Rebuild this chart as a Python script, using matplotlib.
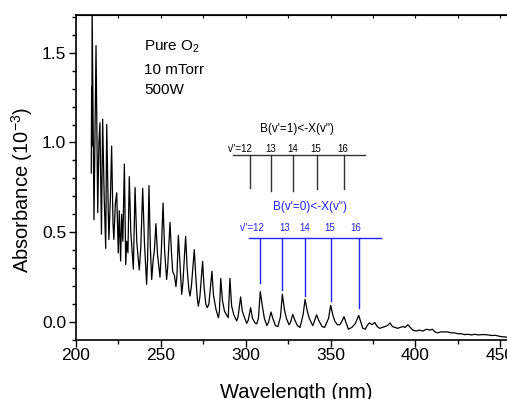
import matplotlib
matplotlib.use("Agg")
import matplotlib.pyplot as plt
from matplotlib.ticker import MultipleLocator

plt.rcParams['font.family'] = ['Liberation Sans', 'DejaVu Sans']
plt.rcParams['mathtext.default'] = 'regular'

# traced spectrum (wavelength nm, absorbance 1e-3)
wavelength = [209.0, 209.2, 209.35, 209.5, 210.6, 211.8, 212.8, 213.5, 214.1, 215.0,
              215.7, 216.6, 217.5, 218.1, 219.0, 219.4, 220.3, 221.0, 221.8, 222.3,
              223.2, 224.0, 224.9, 225.5, 226.3, 226.9, 227.6, 228.5, 229.3, 229.9,
              230.6, 231.4, 232.3, 233.8, 234.8, 235.8, 236.6, 237.3, 238.2, 239.3,
              240.3, 241.6, 242.2, 243.0, 243.8, 244.6, 245.5, 246.2, 247.1, 248.0,
              249.5, 250.3, 251.3, 252.2, 253.4, 254.0, 255.4, 256.3, 257.0, 258.0,
              258.9, 259.5, 260.3, 261.2, 262.3, 263.0, 264.6, 265.5, 266.5, 267.2,
              268.0, 269.7, 270.6, 271.5, 272.1, 273.0, 274.6, 275.5, 276.5, 277.4,
              278.3, 280.1, 281.0, 282.5, 283.9, 284.5, 285.3, 286.3, 287.5, 289.7,
              290.7, 291.7, 293.0, 294.7, 295.5, 297.0, 298.0, 299.5, 300.6, 301.5,
              302.9, 304.0, 305.5, 306.5, 307.5, 308.6, 309.8, 311.0, 312.5, 313.5,
              314.9, 316.0, 317.5, 319.0, 320.5, 321.6, 322.8, 324.0, 325.5, 326.5,
              327.7, 329.0, 330.5, 332.0, 333.8, 335.0, 336.3, 337.5, 339.5, 341.0,
              341.8, 343.0, 345.0, 346.5, 348.8, 350.1, 351.3, 352.5, 354.0, 355.5,
              357.0, 357.9, 359.0, 360.5, 362.5, 364.5, 366.6, 367.8, 369.0, 370.5,
              371.5, 373.0, 374.5, 376.0, 377.5, 379.0, 380.5, 382.0, 383.5, 385.0,
              386.5, 388.0, 389.5, 391.0, 392.5, 394.0, 395.5, 397.0, 398.5, 400.5,
              402.5, 404.5, 406.5, 408.5, 410.0, 411.5, 413.0, 415.0, 417.0, 419.0,
              421.0, 423.0, 425.0, 427.0, 429.0, 431.0, 433.0, 435.0, 437.0, 439.0,
              441.0, 443.0, 445.0, 447.0, 449.0, 451.0, 453.0, 454.5]
absorbance = [0.83, 1.31, 0.98, 1.75, 0.57, 1.54, 0.61, 1.00, 1.11, 0.49,
              1.13, 0.70, 0.41, 1.10, 0.62, 0.46, 0.70, 0.98, 0.55, 0.46,
              0.66, 0.72, 0.385, 0.62, 0.34, 0.60, 0.45, 0.88, 0.32, 0.45,
              0.386, 0.81, 0.50, 0.295, 0.75, 0.45, 0.36, 0.29, 0.42, 0.745,
              0.45, 0.21, 0.35, 0.76, 0.42, 0.237, 0.35, 0.40, 0.548, 0.38,
              0.25, 0.40, 0.663, 0.40, 0.237, 0.30, 0.555, 0.38, 0.28, 0.26,
              0.197, 0.26, 0.483, 0.33, 0.154, 0.22, 0.477, 0.30, 0.18, 0.145,
              0.20, 0.403, 0.25, 0.13, 0.089, 0.14, 0.338, 0.19, 0.10, 0.08,
              0.10, 0.283, 0.15, 0.07, 0.024, 0.06, 0.243, 0.12, 0.06, 0.024,
              0.243, 0.09, 0.04, 0.006, 0.03, 0.14, 0.06, 0.02, -0.007, 0.01,
              0.08, 0.02, -0.005, -0.01, 0.02, 0.17, 0.09, 0.02, -0.02, 0.0,
              0.056, 0.02, -0.02, -0.025, 0.03, 0.155, 0.07, 0.02, -0.015, 0.0,
              0.043, 0.01, -0.02, -0.03, 0.04, 0.126, 0.06, 0.02, -0.02, 0.02,
              0.04, 0.01, -0.025, -0.03, 0.02, 0.093, 0.04, 0.005, -0.015, -0.015,
              0.01, 0.03, 0.0, -0.04, -0.03, -0.01, 0.037, 0.0, -0.035, -0.04,
              -0.02, -0.005, -0.015, -0.002, -0.025, -0.035, -0.03, -0.025, -0.02, -0.005,
              -0.025, -0.03, -0.035, -0.03, -0.025, -0.03, -0.015, -0.03, -0.045, -0.05,
              -0.045, -0.05, -0.04, -0.045, -0.04, -0.055, -0.06, -0.055, -0.055, -0.055,
              -0.06, -0.06, -0.065, -0.065, -0.07, -0.068, -0.072, -0.068, -0.072, -0.07,
              -0.07, -0.072, -0.075, -0.074, -0.078, -0.082, -0.083, -0.087]

# B(v'=1) <- X(v'') progression
v1_pos = [302.5, 314.9, 327.7, 341.8, 357.9]
v1_bottom = [0.747, 0.732, 0.732, 0.74, 0.74]
v1_bar_y = 0.928
v1_bar_x = [292.7, 370.3]
v1_label_x = [296.6, 314.9, 327.7, 341.5, 357.3]
v1_label_y = 0.965
v1_title = ("B(v'=1)<-X(v\")", 330.0, 1.074)

# B(v'=0) <- X(v'') progression
v0_pos = [308.6, 321.6, 335.0, 350.1, 366.6]
v0_bottom = [0.215, 0.178, 0.145, 0.117, 0.08]
v0_bar_y = 0.469
v0_bar_x = [302.1, 379.5]
v0_label_x = [304.0, 322.7, 335.0, 349.4, 364.7]
v0_label_y = 0.524
v0_title = ("B(v'=0)<-X(v\")", 337.9, 0.641)

level_labels = ['v"=12', '13', '14', '15', '16']
conditions = ["Pure O$_{2}$", "10 mTorr", "500W"]
conditions_y = [1.533, 1.405, 1.293]

fig = plt.figure(figsize=(5.07, 3.99), dpi=100)
x0 = 76 / 507
ax = fig.add_axes([x0, 59 / 399, (260 * 1.697) / 507, (340 - 15) / 399])

ax.plot(wavelength, absorbance, color='black', lw=0.9)

black_c = '#333333'
ax.plot(v1_bar_x, [v1_bar_y] * 2, color=black_c, lw=1.0)
for p, b in zip(v1_pos, v1_bottom):
    ax.plot([p, p], [v1_bar_y, b], color=black_c, lw=1.0)
for lx, t in zip(v1_label_x, level_labels):
    ax.text(lx, v1_label_y, t, fontsize=7, ha='center', va='center', color='black')
ax.text(v1_title[1], v1_title[2], v1_title[0], fontsize=8.5, ha='center', va='center', color='black')

blue_c = '#2222ff'
ax.plot(v0_bar_x, [v0_bar_y] * 2, color=blue_c, lw=1.0)
for p, b in zip(v0_pos, v0_bottom):
    ax.plot([p, p], [v0_bar_y, b], color=blue_c, lw=1.0)
for lx, t in zip(v0_label_x, level_labels):
    ax.text(lx, v0_label_y, t, fontsize=7, ha='center', va='center', color=blue_c)
ax.text(v0_title[1], v0_title[2], v0_title[0], fontsize=8.5, ha='center', va='center', color=blue_c)

for t, yy in zip(conditions, conditions_y):
    ax.text(240.3, yy, t, fontsize=11, ha='left', va='center')

ax.set_xlim(200, 460)
ax.set_ylim(-0.1, 1.71)
ax.xaxis.set_major_locator(MultipleLocator(50))
ax.xaxis.set_minor_locator(MultipleLocator(25))
ax.yaxis.set_major_locator(MultipleLocator(0.5))
ax.yaxis.set_minor_locator(MultipleLocator(0.1))
ax.tick_params(which='major', direction='out', length=5, width=1, labelsize=12.5)
ax.tick_params(which='minor', direction='out', length=3, width=1)
ax.tick_params(axis='x', pad=1)
ax.tick_params(axis='y', pad=2)
for s in ax.spines.values():
    s.set_linewidth(1.2)

sec = ax.secondary_xaxis('top')
sec.xaxis.set_major_locator(MultipleLocator(50))
sec.xaxis.set_minor_locator(MultipleLocator(25))
sec.tick_params(which='both', direction='in', length=2, labeltop=False, width=0.8)

ax.set_xlabel('Wavelength (nm)', fontsize=14.5, labelpad=14)
ax.set_ylabel('Absorbance (10$^{-3}$)', fontsize=14.5)
ax.yaxis.set_label_coords(-0.093, 0.4615)

fig.savefig('out.png', dpi=100)
